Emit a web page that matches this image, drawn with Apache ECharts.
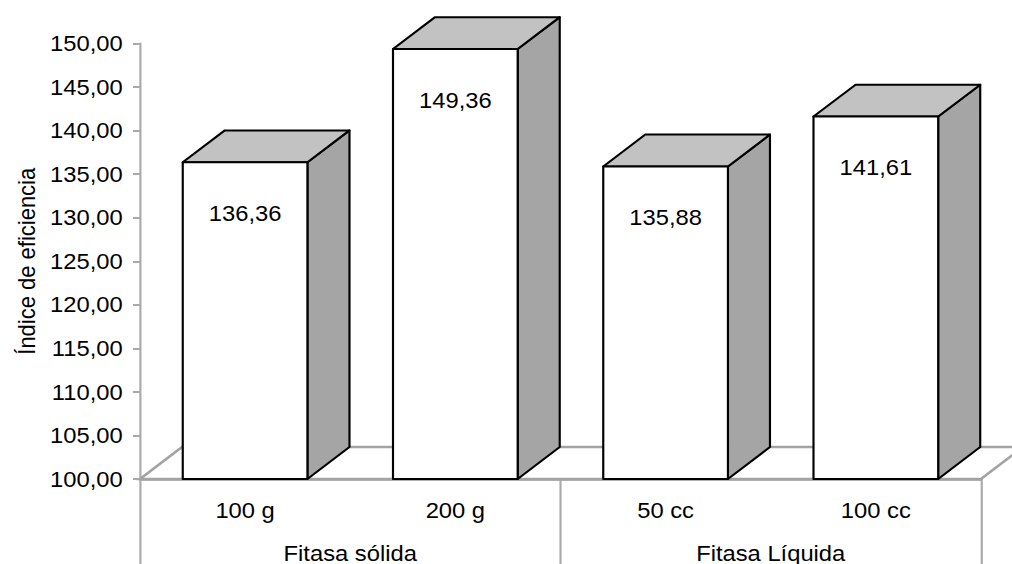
<!DOCTYPE html>
<html>
<head>
<meta charset="utf-8">
<script src="https://cdn.jsdelivr.net/npm/echarts@6/dist/echarts.min.js"></script>
<style>
  html, body { margin: 0; padding: 0; background: #ffffff; overflow: hidden; }
  /* the chart is laid out narrower and widened, giving the broad lettering of the original figure */
  #chart { width: 937px; height: 564px; transform: scaleX(1.08); transform-origin: 0 0; }
</style>
</head>
<body>
<div id="chart"></div>
<script>
// Treatments and their efficiency index
const categories = ['100 g', '200 g', '50 cc', '100 cc'];
const groups = ['Fitasa sólida', 'Fitasa Líquida'];
const values = [136.36, 149.36, 135.88, 141.61];
const yMin = 100, yMax = 150, yStep = 5;

const FONT = '"Liberation Sans", Arial, sans-serif';
const fmt = v => v.toFixed(2).replace('.', ',');

// oblique depth of the 3D boxes, as a fraction of the category band
const DEPTH_X = 0.2, DEPTH_Y = 0.164, BAR_RATIO = 0.593;

function renderFloor(params, api) {
  const band = api.size([1, 0])[0];
  const p = api.coord([0, yMin]);
  const left = p[0] - band / 2;
  const right = left + band * categories.length;
  const y = p[1];
  const dx = band * DEPTH_X, dy = -band * DEPTH_Y;
  return {
    type: 'polygon',
    shape: { points: [[left, y], [left + dx, y + dy], [right + dx, y + dy], [right, y]] },
    style: { fill: '#ffffff', stroke: '#a3a3a3', lineWidth: 2.5 },
    silent: true
  };
}

function renderBar(params, api) {
  const idx = api.value(0), v = api.value(1);
  const top = api.coord([idx, v]);
  const base = api.coord([idx, yMin]);
  const band = api.size([1, 0])[0];
  const w = band * BAR_RATIO;
  const dx = band * DEPTH_X, dy = -band * DEPTH_Y;
  const x0 = top[0] - w / 2, x1 = top[0] + w / 2;
  const yT = top[1], yB = base[1];
  const edge = { stroke: '#000000', lineWidth: 2, lineJoin: 'round' };
  return {
    type: 'group',
    children: [
      {
        type: 'polygon',
        shape: { points: [[x1, yT], [x1 + dx, yT + dy], [x1 + dx, yB + dy], [x1, yB]] },
        style: Object.assign({ fill: '#a5a5a5' }, edge)
      },
      {
        type: 'polygon',
        shape: { points: [[x0, yT], [x0 + dx, yT + dy], [x1 + dx, yT + dy], [x1, yT]] },
        style: Object.assign({ fill: '#c2c2c2' }, edge)
      },
      {
        type: 'rect',
        shape: { x: x0, y: yT, width: w, height: yB - yT },
        style: Object.assign({ fill: '#ffffff' }, edge)
      },
      {
        type: 'text',
        x: top[0],
        y: yT + 51,
        style: {
          text: fmt(v),
          align: 'center',
          verticalAlign: 'middle',
          font: '22px ' + FONT,
          fill: '#000000'
        }
      }
    ]
  };
}

const chart = echarts.init(document.getElementById('chart'), null, { renderer: 'svg' });
chart.setOption({
  backgroundColor: '#ffffff',
  animation: false,
  grid: { left: 129.6, right: 28.7, top: 43.5, bottom: 84.5, containLabel: false },
  xAxis: [
    {
      type: 'category',
      data: categories,
      position: 'bottom',
      axisLine: { show: true, lineStyle: { color: '#999999', width: 2.5 } },
      axisTick: { show: false },
      axisLabel: { color: '#000000', fontSize: 22, fontFamily: FONT, margin: 20 },
      splitLine: { show: false }
    },
    {
      type: 'category',
      data: groups,
      position: 'bottom',
      axisLine: { show: false },
      axisTick: { show: true, length: 86, interval: 0, lineStyle: { color: '#aaaaaa', width: 2 } },
      axisLabel: { color: '#000000', fontSize: 22, fontFamily: FONT, margin: 63 },
      splitLine: { show: false }
    }
  ],
  yAxis: {
    type: 'value',
    min: yMin,
    max: yMax,
    interval: yStep,
    name: 'Índice de eficiencia',
    nameLocation: 'middle',
    nameGap: 94,
    nameTextStyle: { color: '#000000', fontSize: 22, fontFamily: FONT },
    axisLine: { show: true, lineStyle: { color: '#aaaaaa', width: 2 } },
    axisTick: { show: true, length: 6.5, lineStyle: { color: '#aaaaaa', width: 2 } },
    axisLabel: { color: '#000000', fontSize: 22, fontFamily: FONT, margin: 16, formatter: v => fmt(v) },
    splitLine: { show: false }
  },
  series: [
    {
      type: 'custom',
      name: 'floor',
      xAxisIndex: 0,
      yAxisIndex: 0,
      clip: false,
      silent: true,
      renderItem: renderFloor,
      data: [[0, yMin]],
      z: 1
    },
    {
      type: 'custom',
      name: 'Índice de eficiencia',
      xAxisIndex: 0,
      yAxisIndex: 0,
      clip: false,
      renderItem: renderBar,
      encode: { x: 0, y: 1 },
      data: values.map((v, i) => [i, v]),
      z: 3
    }
  ]
});
</script>
</body>
</html>
